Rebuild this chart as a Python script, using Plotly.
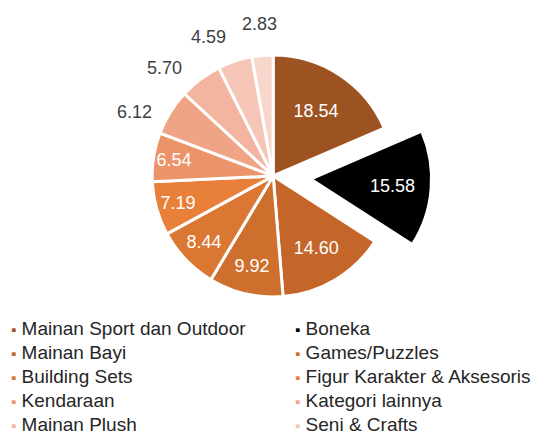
import math
import plotly.graph_objects as go

# ── Data ──────────────────────────────────────────────────────────────────────
SLICE_VALUES = [18.54, 15.58, 14.60, 9.92, 8.44, 7.19, 6.54, 6.12, 5.70, 4.59, 2.83]
SLICE_LABELS = [
    "Mainan Sport dan Outdoor", "Boneka", "Mainan Bayi", "Games/Puzzles",
    "Building Sets", "Figur Karakter & Aksesoris", "Kendaraan",
    "Kategori lainnya", "Mainan Plush", "Seni & Crafts", "Lainnya",
]
SLICE_COLORS = [
    "#9C5321", "#000000", "#C4662A", "#CF6F2D", "#DA7732", "#E8803A",
    "#EC9469", "#F0A486", "#F3B5A0", "#F5C5B5", "#F8D6CC",
]
LEGEND_COUNT = 10  # the last slice has no legend entry
INSIDE_COUNT = 7   # the remaining small slices get their value outside
PULL = [0, 0.31] + [0] * 9

# ── Layout constants ──────────────────────────────────────────────────────────
W, H = 549, 429
FONT = "Liberation Sans, Arial, sans-serif"
DOM_X = [0.183, 0.783]
DOM_Y = [0.239, 0.978]
MIN_LABEL_GAP = math.radians(20)  # spread the outside labels apart

text_pos = ["inside"] * INSIDE_COUNT + ["none"] * (len(SLICE_VALUES) - INSIDE_COUNT)

fig = go.Figure(go.Pie(
    values=SLICE_VALUES,
    labels=SLICE_LABELS,
    sort=False,
    direction="clockwise",
    rotation=0,
    pull=PULL,
    marker=dict(colors=SLICE_COLORS, line=dict(color="white", width=3)),
    texttemplate="%{value:.2f}",
    textposition=text_pos,
    insidetextorientation="horizontal",
    insidetextfont=dict(color="white", size=18, family=FONT),
    showlegend=False,
    automargin=False,
    hoverinfo="label+value",
    domain=dict(x=DOM_X, y=DOM_Y),
))

annotations = []

# ── Outside value labels for the small slices ─────────────────────────────────
cx = (DOM_X[0] + DOM_X[1]) / 2 * W
cy = (DOM_Y[0] + DOM_Y[1]) / 2 * H
radius = min((DOM_X[1] - DOM_X[0]) * W, (DOM_Y[1] - DOM_Y[0]) * H) / (2 * (1 + max(PULL)))
total = sum(SLICE_VALUES)

mids = []
cum = 0
for v in SLICE_VALUES:
    mids.append((cum + v / 2) / total * 2 * math.pi)
    cum += v

angles = mids[:]
for i in range(len(angles) - 2, INSIDE_COUNT - 1, -1):
    if angles[i + 1] - angles[i] < MIN_LABEL_GAP:
        angles[i] = angles[i + 1] - MIN_LABEL_GAP

for i in range(INSIDE_COUNT, len(SLICE_VALUES)):
    rr = radius + 32
    annotations.append(dict(
        x=(cx + rr * math.sin(angles[i])) / W,
        y=(cy + rr * math.cos(angles[i])) / H,
        xref="paper", yref="paper",
        xanchor="center", yanchor="middle",
        showarrow=False,
        text=f"{SLICE_VALUES[i]:.2f}",
        font=dict(size=18, color="#404040", family=FONT),
    ))

# ── Legend (two columns, row-wise) ────────────────────────────────────────────
for i in range(LEGEND_COUNT):
    col, row = i % 2, i // 2
    annotations.append(dict(
        x=(1 if col == 0 else 285) / W,
        y=1 - (320 + row * 24.2) / H,
        xref="paper", yref="paper",
        xanchor="left", yanchor="middle",
        showarrow=False,
        text=f"<span style='color:{SLICE_COLORS[i]};font-size:15px'>▪</span> {SLICE_LABELS[i]}",
        font=dict(size=19, color="#262626", family=FONT),
    ))

fig.update_layout(
    width=W, height=H,
    margin=dict(l=0, r=0, t=0, b=0, pad=0, autoexpand=False),
    paper_bgcolor="white",
    plot_bgcolor="white",
    annotations=annotations,
    font=dict(family=FONT),
)

fig.write_html("out.html")
